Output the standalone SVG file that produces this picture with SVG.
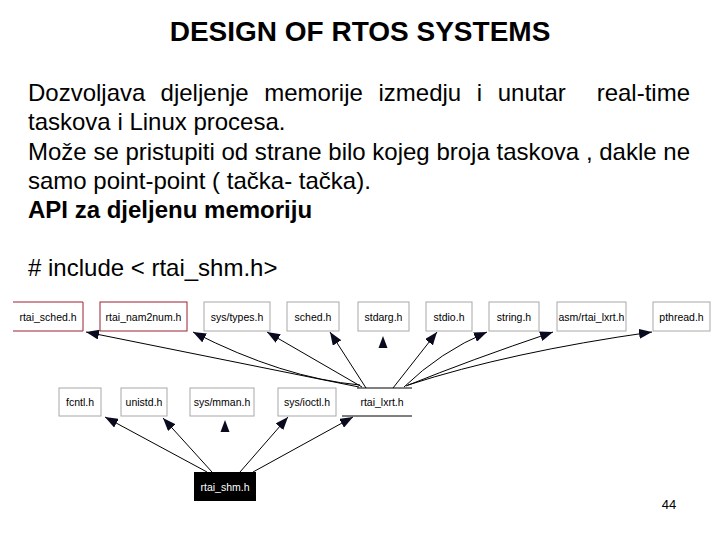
<svg xmlns="http://www.w3.org/2000/svg" width="720" height="540" viewBox="0 0 720 540">
<style>
.t{font-family:"Liberation Sans",Arial,sans-serif;font-size:24px;fill:#000}
.b{font-weight:bold}
.n{font-family:"Liberation Sans",Arial,sans-serif;font-size:10.5px;fill:#000;text-anchor:middle}
.g{fill:#fff;stroke:#a8a8a8;stroke-width:1}
.r{fill:#fff;stroke:#9a2030;stroke-width:1}
.e{fill:none;stroke:#000;stroke-width:1}
.ah{fill:#0a0a1e}
</style>
<defs>
<marker id="a" markerUnits="userSpaceOnUse" markerWidth="13" markerHeight="10" refX="13" refY="5" orient="auto">
<path d="M0,0 L13,5 L0,10 z" class="ah"/>
</marker>
</defs>
<rect width="720" height="540" fill="#fff"/>
<text class="t b" x="360" y="41" text-anchor="middle" style="font-size:28px">DESIGN OF RTOS SYSTEMS</text>
<text class="t" y="101"><tspan x="28">Dozvoljava</tspan><tspan x="160.6">djeljenje</tspan><tspan x="264.2">memorije</tspan><tspan x="378.5">izmedju</tspan><tspan x="476.8">i</tspan><tspan x="497.7">unutar</tspan></text>
<text class="t" x="690" y="101" text-anchor="end">real-time</text>
<text class="t" x="28" y="130">taskova i Linux procesa.</text>
<text class="t" x="28" y="160" textLength="662" lengthAdjust="spacingAndGlyphs">Može se pristupiti od strane bilo kojeg broja taskova , dakle ne</text>
<text class="t" x="28" y="189">samo point-point ( tačka- tačka).</text>
<text class="t b" x="28" y="218">API za djeljenu memoriju</text>
<text class="t" x="28" y="276"># include &lt; rtai_shm.h&gt;</text>
<text class="t" x="669" y="509" text-anchor="middle" style="font-size:13px">44</text>

<g id="edges">
<path class="e" marker-end="url(#a)" d="M359,387 L86,332"/>
<path class="e" marker-end="url(#a)" d="M360,385 Q283,378 193,332"/>
<path class="e" marker-end="url(#a)" d="M362,387 L267,332"/>
<path class="e" marker-end="url(#a)" d="M366,388 L330,332"/>
<path class="e" marker-end="url(#a)" d="M393,388 L437,332"/>
<path class="e" marker-end="url(#a)" d="M404,387 Q440,352 487,332"/>
<path class="e" marker-end="url(#a)" d="M406,386 Q470,360 553,332"/>
<path class="e" marker-end="url(#a)" d="M408,385 Q510,352 652,332"/>
<polygon class="ah" points="383,336 378.5,348 387.5,348"/>
<path class="e" marker-end="url(#a)" d="M207,472 L105,417"/>
<path class="e" marker-end="url(#a)" d="M212,472 L163,418"/>
<path class="e" marker-end="url(#a)" d="M240,472 L288,417"/>
<path class="e" marker-end="url(#a)" d="M253,472 L353,417"/>
<polygon class="ah" points="225,420 220.5,432 229.5,432"/>
</g>

<g id="rtai_sched"><path class="r" d="M13,302 H83 V331 H13"/><text class="n" x="48" y="321">rtai_sched.h</text></g>
<g id="rtai_nam2num"><rect class="r" x="100" y="302" width="87" height="29"/><text class="n" x="143.5" y="321">rtai_nam2num.h</text></g>
<g id="sys_types"><rect class="g" x="204" y="302" width="66" height="29"/><text class="n" x="237" y="321">sys/types.h</text></g>
<g id="sched"><rect class="g" x="287" y="302" width="52" height="29"/><text class="n" x="313" y="321">sched.h</text></g>
<g id="stdarg"><rect class="g" x="358" y="302" width="51" height="29"/><text class="n" x="383.5" y="321">stdarg.h</text></g>
<g id="stdio"><rect class="g" x="426" y="302" width="46" height="29"/><text class="n" x="449" y="321">stdio.h</text></g>
<g id="string"><rect class="g" x="489" y="302" width="50" height="29"/><text class="n" x="514" y="321">string.h</text></g>
<g id="asm_rtai_lxrt"><rect class="g" x="557" y="302" width="69" height="29"/><text class="n" x="591.5" y="321">asm/rtai_lxrt.h</text></g>
<g id="pthread"><rect class="g" x="653" y="302" width="57" height="29"/><text class="n" x="681.5" y="321">pthread.h</text></g>

<g id="fcntl"><rect class="g" x="59" y="388" width="42" height="28"/><text class="n" x="80" y="406">fcntl.h</text></g>
<g id="unistd"><rect class="g" x="121" y="388" width="46" height="28"/><text class="n" x="144" y="406">unistd.h</text></g>
<g id="sys_mman"><rect class="g" x="190" y="388" width="64" height="28"/><text class="n" x="222" y="406">sys/mman.h</text></g>
<g id="sys_ioctl"><rect class="g" x="278" y="388" width="58" height="28"/><text class="n" x="307" y="406">sys/ioctl.h</text></g>
<g id="rtai_lxrt"><path d="M357,388 H412 M342,416 H412" stroke="#000" stroke-width="1" fill="none"/><text class="n" x="382" y="406">rtai_lxrt.h</text></g>

<g id="rtai_shm"><rect x="194" y="472" width="62" height="29" fill="#000"/><text class="n" x="225" y="491" style="fill:#fff">rtai_shm.h</text></g>
</svg>
